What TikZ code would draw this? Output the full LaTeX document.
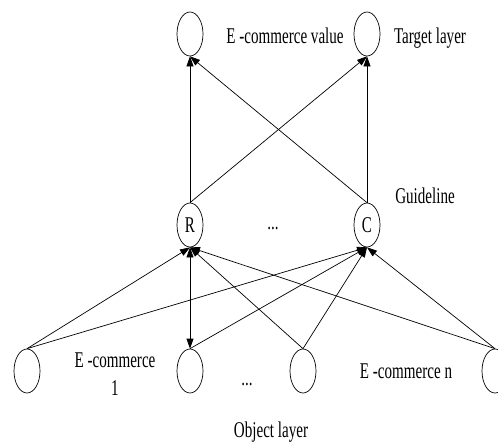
\documentclass[tikz,border=0pt]{standalone}
\usepackage{fontspec}
\usepackage{graphicx}
\setmainfont{Liberation Serif}
\usetikzlibrary{arrows.meta,shapes.geometric}
% narrow, tall lettering
\newcommand{\narrow}[1]{\scalebox{0.67}[1]{#1}}
\begin{document}
\begin{tikzpicture}[x=1pt,y=-1pt,
  unit/.style={draw,ellipse,line width=0.7pt,minimum width=26pt,minimum height=44pt,inner sep=0pt,font=\fontsize{22.5}{26}\selectfont},
  lbl/.style={anchor=base,inner sep=0pt,font=\fontsize{22.5}{26}\selectfont},
  link/.style={line width=0.7pt,-{Triangle[length=10pt,width=7pt]}},
  both/.style={line width=0.7pt,{Triangle[length=10pt,width=7pt]}-{Triangle[length=10pt,width=7pt]}}]
\useasboundingbox (0,0) rectangle (498,445);
% target layer
\node[unit] (t1) at (190,34) {};
\node[unit] (t2) at (367,34) {};
% guideline layer
\node[unit] (r) at (190,225) {\narrow{R}};
\node[unit] (c) at (367,225) {\narrow{C}};
% object layer
\node[unit] (o1) at (27,371) {};
\node[unit] (o2) at (190,371) {};
\node[unit] (o3) at (303,371) {};
\node[unit] (o4) at (495,371) {};
% labels
\node[lbl] (tv) at (285,43) {\narrow{E -commerce value}};
\node[lbl] (tl) at (430,43) {\narrow{Target layer}};
\node[lbl] (gl) at (425,203) {\narrow{Guideline}};
\node[lbl] (d1) at (273,229) {\narrow{...}};
\node[lbl] (e1) at (115,367) {\narrow{E -commerce}};
\node[lbl] (e1b) at (115,395) {\narrow{1}};
\node[lbl] (d2) at (247,385) {\narrow{...}};
\node[lbl] (en) at (406,378) {\narrow{E -commerce n}};
\node[lbl] (ol) at (271,437) {\narrow{Object layer}};
% guideline to target
\draw[link] (r.north) -- (t1.south);
\draw[link] (r.north) -- (t2.south);
\draw[link] (c.north) -- (t1.south);
\draw[link] (c.north) -- (t2.south);
% object to guideline
\draw[link] (o1.north) -- (r.south);
\draw[link] (o1.north) -- (c.south);
\draw[both] (o2.north) -- (r.south);
\draw[link] (o2.north) -- (c.south);
\draw[link] (o3.north) -- (r.south);
\draw[link] (o3.north) -- (c.south);
\draw[link] (o4.north) -- (r.south);
\draw[link] (o4.north) -- (c.south);
\end{tikzpicture}
\end{document}
